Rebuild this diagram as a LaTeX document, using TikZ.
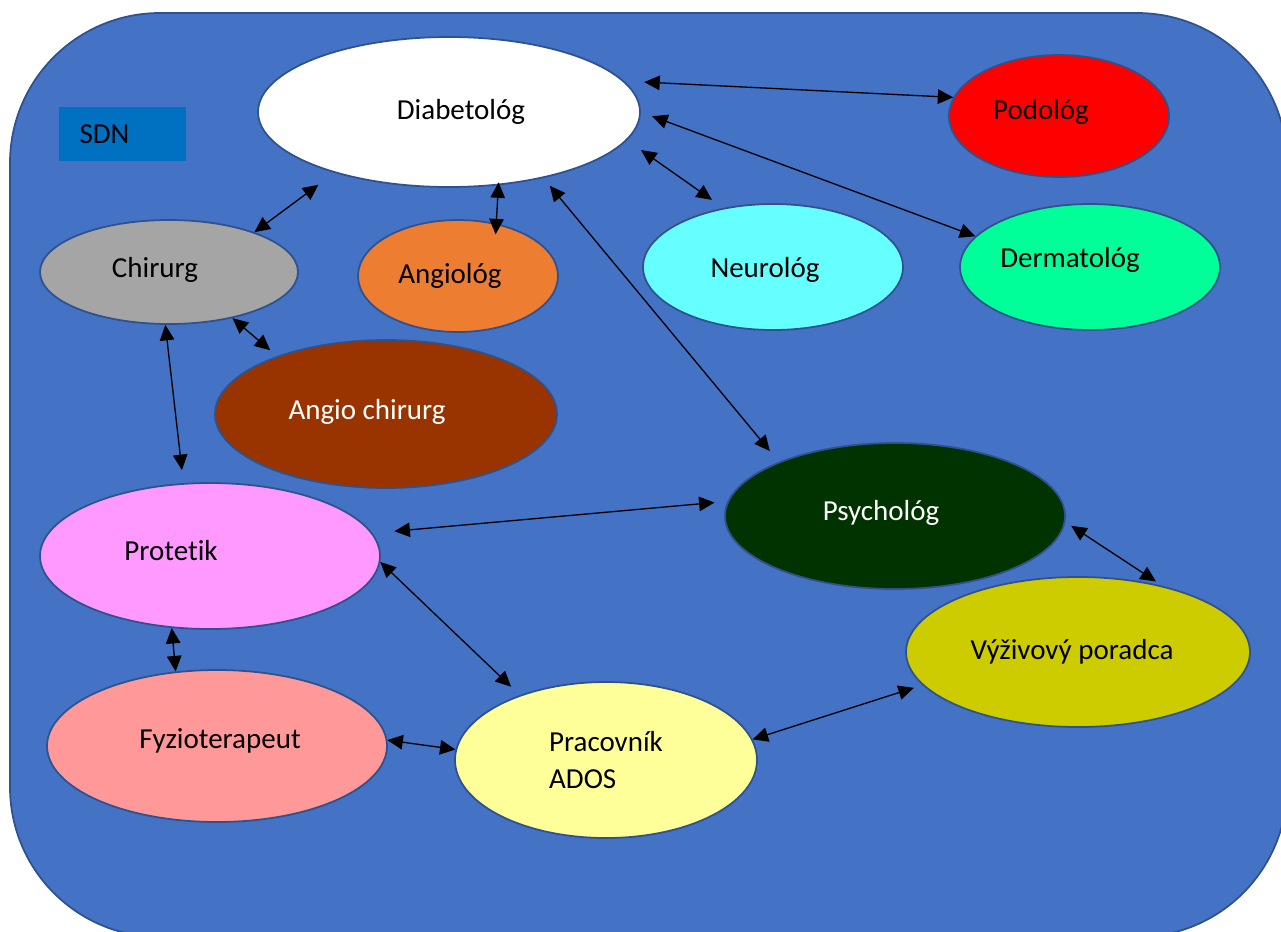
\documentclass[tikz,border=0pt]{standalone}
\usepackage{fontspec}
\setmainfont{Carlito}[Ligatures={NoCommon}]
\usetikzlibrary{shapes.geometric,arrows.meta}
\def\pu{0.02cm}
\definecolor{bgblue}{HTML}{4472C4}
\definecolor{edgeblue}{HTML}{2F528F}
\definecolor{sdnblue}{HTML}{0070C0}
\definecolor{cgray}{HTML}{A5A5A5}
\definecolor{corange}{HTML}{ED7D31}
\definecolor{ccyan}{HTML}{66FFFF}
\definecolor{cmint}{HTML}{00FF99}
\definecolor{cbrown}{HTML}{993300}
\definecolor{cdgreen}{HTML}{003300}
\definecolor{cpink}{HTML}{FF99FF}
\definecolor{colive}{HTML}{CCCC00}
\definecolor{csalmon}{HTML}{FF9999}
\definecolor{clyellow}{HTML}{FFFF99}
\tikzset{
  oval/.style={ellipse, draw=edgeblue, line width=1pt, inner sep=0pt},
  txt/.style={font=\fontsize{16.5pt}{21.5pt}\selectfont, text=black},
  wtxt/.style={font=\fontsize{16.5pt}{21.5pt}\selectfont, text=white},
  link/.style={draw=black, line width=0.75pt, {Triangle[length=0.31cm,width=0.29cm]}-{Triangle[length=0.31cm,width=0.29cm]}}
}
\begin{document}
\begin{tikzpicture}[x=0.02cm,y=-0.02cm]
\useasboundingbox (0,0) rectangle (1281,931);
\begin{scope}
\clip (0,0) rectangle (1281,931);
\draw[fill=bgblue, draw=edgeblue, line width=1pt, rounded corners=150*\pu] (10,13) rectangle (1287,937);
\end{scope}

\node[fill=sdnblue, minimum width=127*\pu, minimum height=54*\pu, inner sep=0pt,
      label={[txt, xshift=-18*\pu]center:SDN}] (sdn) at (122.5,134) {};

\node[oval, fill=white, minimum width=382*\pu, minimum height=150*\pu,
      label={[txt, xshift=12*\pu]center:Diabetológ}] (diab) at (449,112) {};
\node[oval, fill=red, minimum width=220*\pu, minimum height=122*\pu,
      label={[txt, xshift=-18*\pu, yshift=4*\pu]center:Podológ}] (pod) at (1059,116) {};
\node[oval, fill=cgray, minimum width=258*\pu, minimum height=104*\pu,
      label={[txt, xshift=-14*\pu, yshift=2*\pu]center:Chirurg}] (chir) at (169,272) {};
\node[oval, fill=corange, minimum width=200*\pu, minimum height=112*\pu,
      label={[txt, xshift=-8*\pu]center:Angiológ}] (angio) at (458,276) {};
\node[oval, fill=ccyan, minimum width=260*\pu, minimum height=126*\pu,
      label={[txt, xshift=-8*\pu, yshift=-3*\pu]center:Neurológ}] (neuro) at (773,267) {};
\node[oval, fill=cmint, minimum width=260*\pu, minimum height=126*\pu,
      label={[txt, xshift=-20*\pu, yshift=7*\pu]center:Dermatológ}] (derm) at (1090,267) {};
\node[oval, fill=cbrown, minimum width=342*\pu, minimum height=148*\pu,
      label={[wtxt, xshift=-19*\pu, yshift=2*\pu]center:Angio chirurg}] (achir) at (386,414) {};
\node[oval, fill=cdgreen, minimum width=340*\pu, minimum height=146*\pu,
      label={[wtxt, xshift=-14*\pu, yshift=3*\pu]center:Psychológ}] (psych) at (895,516) {};
\node[oval, fill=cpink, minimum width=340*\pu, minimum height=146*\pu,
      label={[txt, xshift=-39*\pu, yshift=5*\pu]center:Protetik}] (prot) at (210,556) {};
\node[oval, fill=colive, minimum width=344*\pu, minimum height=150*\pu,
      label={[txt, xshift=-6*\pu]center:Výživový poradca}] (vyz) at (1078,652) {};
\node[oval, fill=csalmon, minimum width=340*\pu, minimum height=152*\pu,
      label={[txt, xshift=3*\pu, yshift=5*\pu]center:Fyzioterapeut}] (fyz) at (217,746) {};
\node[oval, fill=clyellow, minimum width=302*\pu, minimum height=156*\pu,
      label={[txt, align=left]center:Pracovník\\ADOS}] (prac) at (606,760) {};

\draw[link, shorten <=20*\pu] (diab.10) -- (pod.170);
\draw[link, shorten <=12*\pu] (diab.0) -- (derm.165);
\draw[link, shorten <=17*\pu, shorten >=14*\pu] (diab.-9) -- (neuro.130);
\draw[link, shorten <=10*\pu, shorten >=14*\pu] (diab.-35) -- (psych.155);
\draw[link, shorten <=20*\pu] (diab.208) -- (chir.25);
\draw[link, shorten <=-3*\pu, shorten >=-11*\pu] (diab.-56) -- (angio.54);
\draw[link, shorten >=9*\pu] (chir.-36) -- (achir.152);
\draw[link, shorten >=13*\pu] (chir.-94) -- (prot.110);
\draw[link, shorten <=22*\pu, shorten >=13*\pu] (prot.8) -- (psych.175);
\draw[link, shorten >=12*\pu] (prot.-2) -- (prac.143);
\draw[link] (prot.242) -- (fyz.119);
\draw[link] (fyz.2) -- (prac.176);
\draw[link, shorten >=9*\pu] (prac.8) -- (vyz.192);
\draw[link, shorten <=7*\pu, shorten >=8*\pu] (psych.-2) -- (vyz.38);
\end{tikzpicture}
\end{document}
